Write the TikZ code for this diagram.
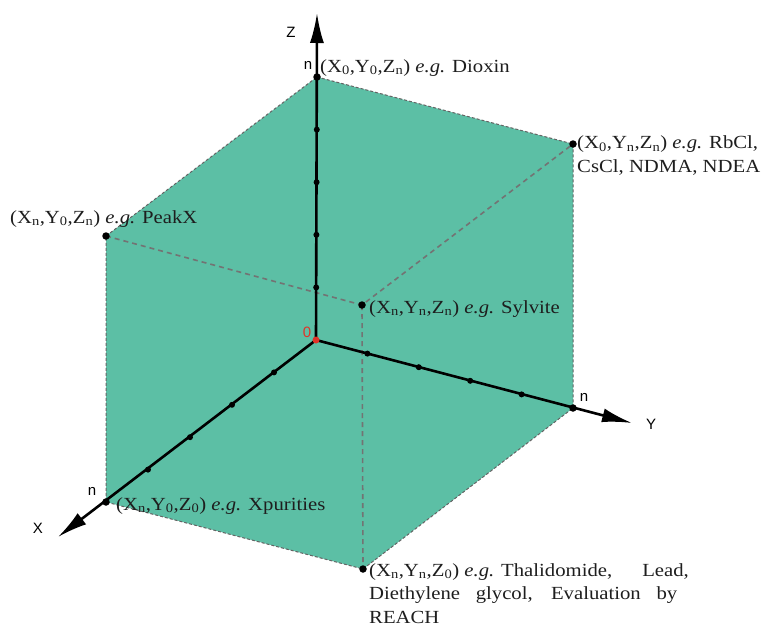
\documentclass[tikz,border=0pt]{standalone}
\usepackage{fontspec}
\setmainfont{Liberation Serif}[FakeStretch=1.12]
\setsansfont{Liberation Sans}
\usetikzlibrary{arrows.meta,calc}
\definecolor{cubegreen}{RGB}{92,191,165}
\definecolor{edgegray}{RGB}{100,100,100}
\definecolor{innergray}{RGB}{115,115,115}
\definecolor{zerored}{RGB}{225,50,40}
\definecolor{textdark}{RGB}{30,30,30}
\newcommand{\sbs}[1]{\textsubscript{#1}}
\tikzset{
  lbl/.style={font=\fontsize{18.5}{23.5}\selectfont, text=textdark, inner sep=0pt, anchor=base west, align=left},
  axlbl/.style={font=\sffamily\fontsize{15}{15}\selectfont, inner sep=0pt},
  outeredge/.style={draw=edgegray, line width=1pt, dash pattern=on 3pt off 2pt},
  inneredge/.style={draw=innergray, line width=1.6pt, dash pattern=on 5pt off 4pt},
  axis/.style={line width=2.6pt, -{Latex[length=30pt,width=14pt]}},
  dot/.style={circle, fill=black, inner sep=0pt, minimum size=7.5pt},
  tick/.style={circle, fill=black, inner sep=0pt, minimum size=6pt},
}
\begin{document}
\begin{tikzpicture}[x=1pt,y=-1pt]
\useasboundingbox (0,0) rectangle (776,627);
% cube vertices
\coordinate (O) at (316,340);
\coordinate (Xn) at (106,502);
\coordinate (Yn) at (573,408);
\coordinate (Zn) at (317,77);
\coordinate (XY) at (363,569);
\coordinate (XZ) at (106,236);
\coordinate (YZ) at (573,144);
\coordinate (XYZ) at (362,305);
\coordinate (Xt) at (58,537);
\coordinate (Yt) at (632,423);
\coordinate (Zt) at (317,13);
% faces
\fill[cubegreen] (Zn) -- (YZ) -- (Yn) -- (XY) -- (Xn) -- (XZ) -- cycle;
% inner hidden edges
\draw[inneredge] (XZ) -- (XYZ) -- (YZ);
\draw[inneredge] (XYZ) -- (XY);
% silhouette edges
\draw[outeredge] (Zn) -- (YZ) -- (Yn) -- (XY) -- (Xn) -- (XZ) -- cycle;
% axes
\draw[axis] (O) -- (Zt);
\draw[axis] (O) -- (Yt);
\draw[axis] (O) -- (Xt);
% ticks
\foreach \k in {1,2,3,4}{
  \node[tick] (tx\k) at ($(O)!\k/5!(Xn)$) {};
  \node[tick] (ty\k) at ($(O)!\k/5!(Yn)$) {};
  \node[tick] (tz\k) at ($(O)!\k/5!(Zn)$) {};
}
% corner dots
\node[dot] (dZn) at (Zn) {};
\node[dot] (dXn) at (Xn) {};
\node[dot] (dYn) at (Yn) {};
\node[dot] (dXY) at (XY) {};
\node[dot] (dXZ) at (XZ) {};
\node[dot] (dYZ) at (YZ) {};
\node[dot] (dXYZ) at (XYZ) {};
\node[circle, fill=zerored, inner sep=0pt, minimum size=7pt] (dO) at (O) {};
% axis labels
\node[axlbl] (lZ) at (291,32) {Z};
\node[axlbl] (lX) at (38,528) {X};
\node[axlbl] (lY) at (651,424) {Y};
\node[axlbl] (nZ) at (308,65) {n};
\node[axlbl] (nX) at (92,491) {n};
\node[axlbl] (nY) at (584,397) {n};
\node[axlbl, text=zerored] (l0) at (307,332) {0};
% point labels
\node[lbl] (tZn) at (320,72) {(X\sbs{0},Y\sbs{0},Z\sbs{n}) \textit{e.g.} Dioxin};
\node[lbl] (tYZ) at (577,172) {(X\sbs{0},Y\sbs{n},Z\sbs{n}) \textit{e.g.} RbCl,\\CsCl, NDMA, NDEA};
\node[lbl] (tXZ) at (10,223) {(X\sbs{n},Y\sbs{0},Z\sbs{n}) \textit{e.g.} PeakX};
\node[lbl] (tXYZ) at (369,313) {(X\sbs{n},Y\sbs{n},Z\sbs{n}) \textit{e.g.} Sylvite};
\node[lbl] (tXn) at (116,510) {(X\sbs{n},Y\sbs{0},Z\sbs{0}) \textit{e.g.} Xpurities};
\node[lbl] (tXY) at (369,623) {(X\sbs{n},Y\sbs{n},Z\sbs{0}) \textit{e.g.} Thalidomide,\hspace{30pt}Lead,\\\makebox[308pt][s]{Diethylene glycol, Evaluation by}\\REACH};
\end{tikzpicture}
\end{document}
